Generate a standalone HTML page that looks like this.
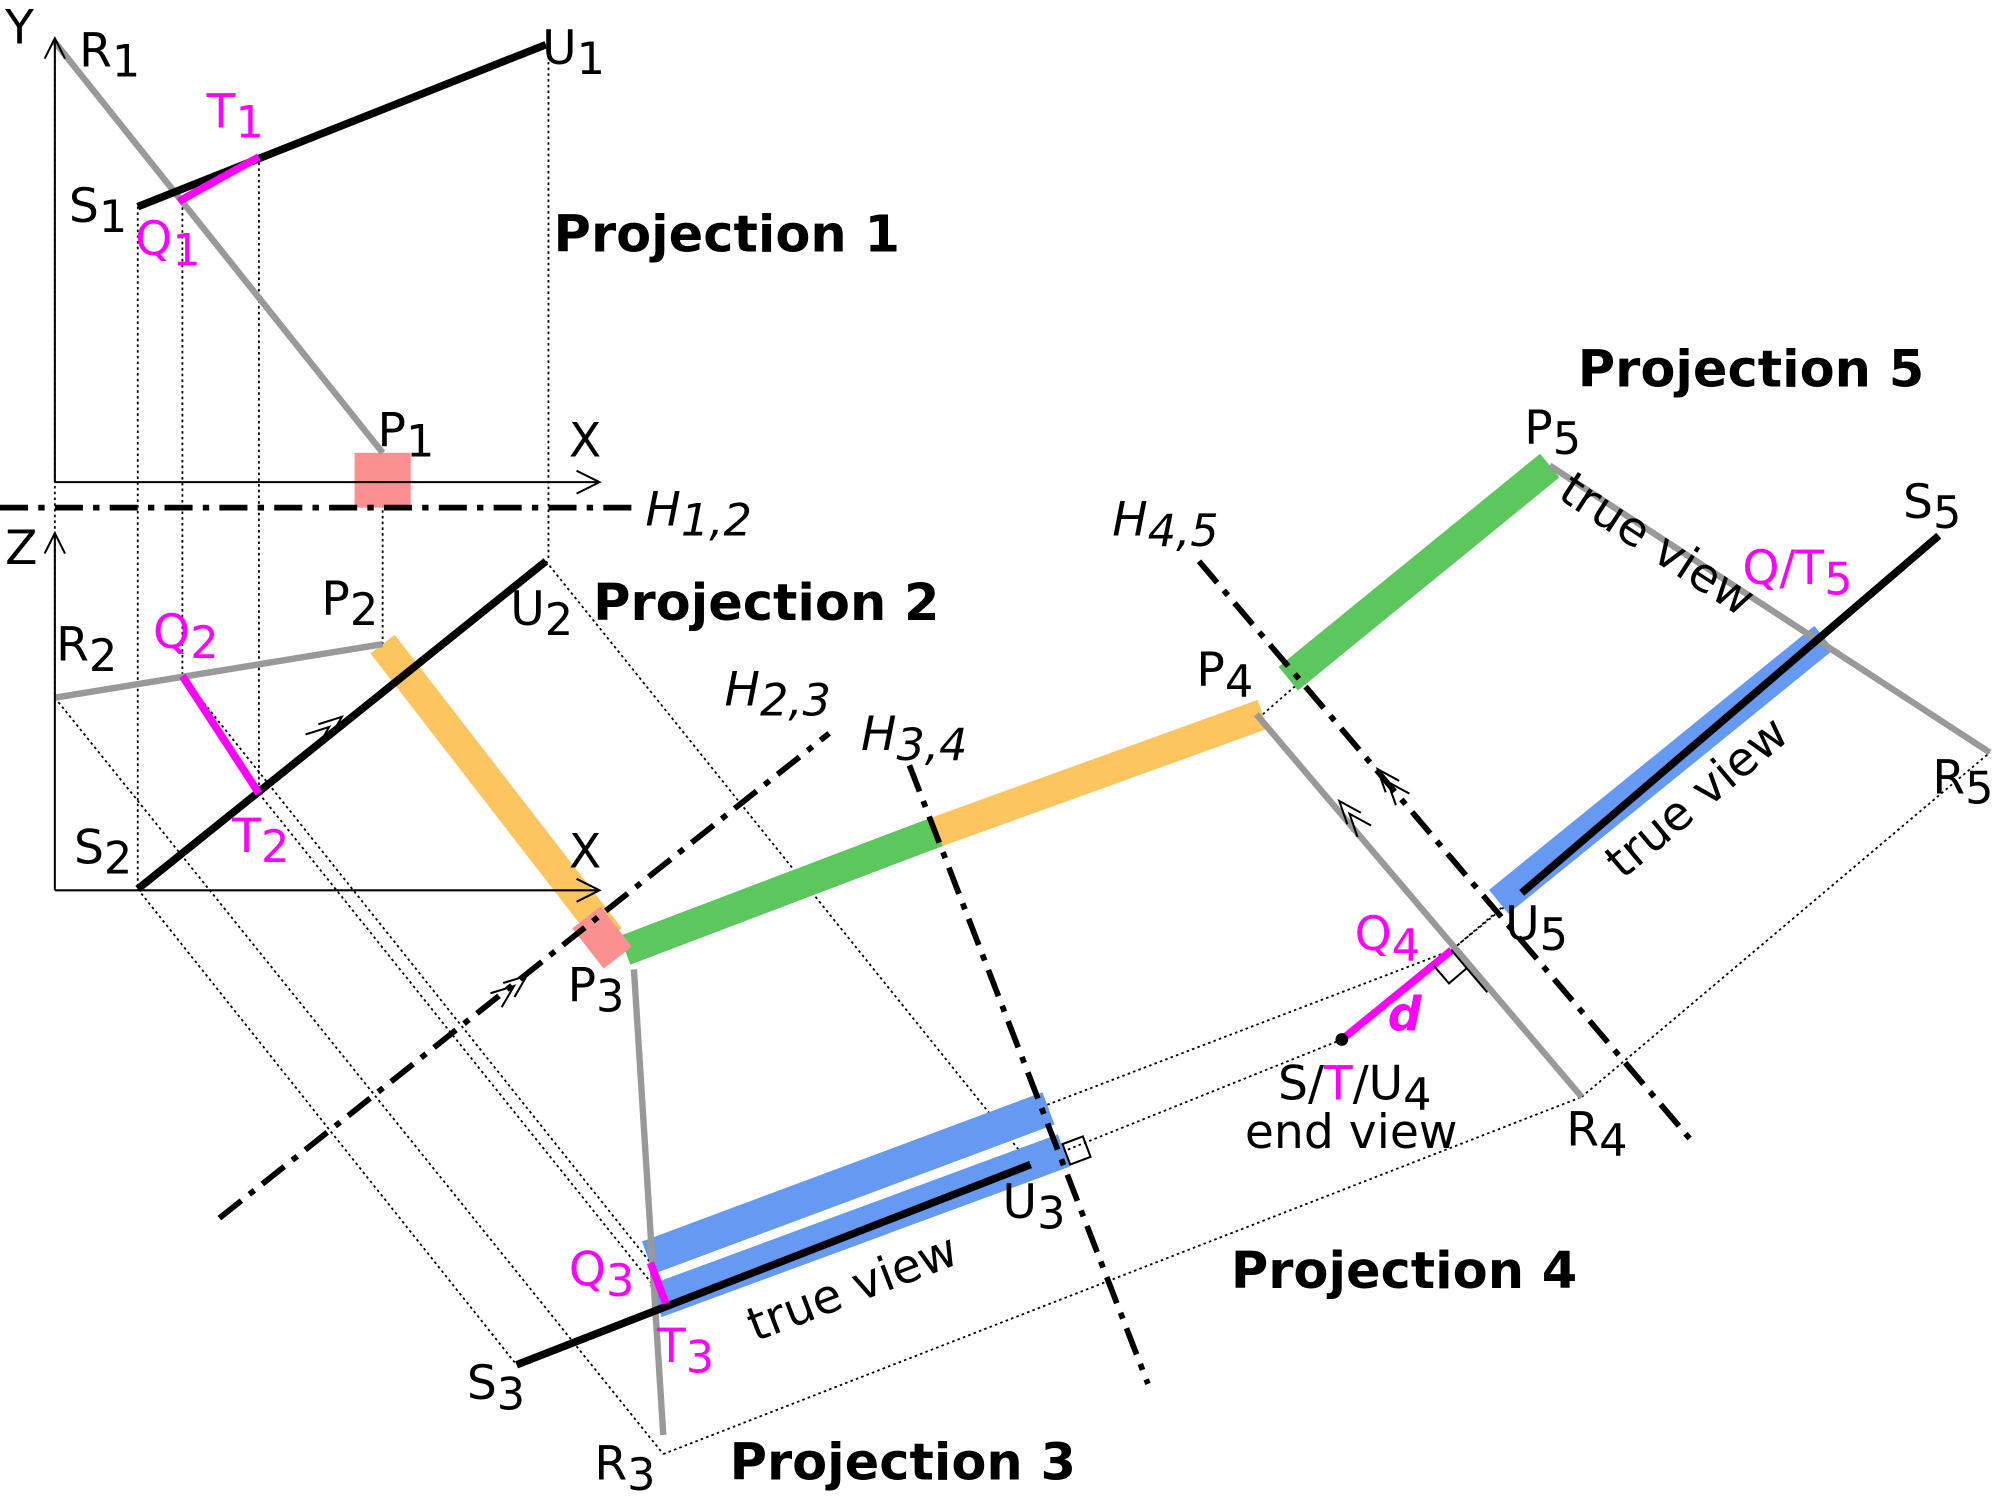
<!DOCTYPE html>
<html><head><meta charset="utf-8"><style>html,body{margin:0;padding:0;background:#fff}svg{display:block}</style></head><body>
<svg width="2000" height="1500" viewBox="0 0 1568 1176" preserveAspectRatio="none" xmlns="http://www.w3.org/2000/svg" font-family="DejaVu Sans, Liberation Sans, sans-serif">
<rect width="1568" height="1176" fill="#fff"/>
<g stroke="#000" stroke-width="1.4" stroke-dasharray="2,2.5" fill="none">
<line x1="43" y1="30" x2="43" y2="547"/>
<line x1="108" y1="162" x2="108" y2="697"/>
<line x1="143" y1="158" x2="143" y2="530"/>
<line x1="203" y1="123" x2="203" y2="622"/>
<line x1="300" y1="355" x2="300" y2="505"/>
<line x1="430" y1="35" x2="430" y2="440"/>
<line x1="108" y1="697" x2="405" y2="1070"/>
<line x1="43" y1="547" x2="520" y2="1140"/>
<line x1="428" y1="440" x2="808" y2="913"/>
<line x1="143" y1="530" x2="510" y2="990"/>
<line x1="203" y1="622" x2="522" y2="1020"/>
<line x1="520" y1="1140" x2="1240" y2="860"/>
<line x1="808" y1="913" x2="1052" y2="815"/>
<line x1="510" y1="985" x2="1138" y2="745"/>
<line x1="490" y1="745" x2="990" y2="560"/>
<line x1="1052" y1="815" x2="1193" y2="700"/>
<line x1="1138" y1="745" x2="1420" y2="505"/>
<line x1="1240" y1="860" x2="1560" y2="590"/>
<line x1="990" y1="560" x2="1215" y2="365"/>
</g>
<g stroke-linecap="butt" fill="none">
<line x1="300" y1="505" x2="478" y2="735" stroke="#fdc560" stroke-width="24"/>
<line x1="490" y1="745" x2="735" y2="652" stroke="#5cc75c" stroke-width="24"/>
<line x1="735" y1="652" x2="990" y2="560" stroke="#fdc560" stroke-width="24"/>
<line x1="1010" y1="532" x2="1215" y2="365" stroke="#5cc75c" stroke-width="24"/>
<line x1="508" y1="986" x2="822" y2="869" stroke="#6699f2" stroke-width="27"/>
<line x1="514" y1="1020" x2="834" y2="902" stroke="#6699f2" stroke-width="27"/>
<line x1="1175" y1="707" x2="1430" y2="500" stroke="#6699f2" stroke-width="24"/>
</g>
<rect x="278" y="355" width="44" height="43" fill="#fa9090"/>
<rect x="458" y="715" width="28" height="40" fill="#fa9090" transform="rotate(-38 472 735)"/>
<g stroke="#999" stroke-width="5" fill="none">
<line x1="43" y1="33" x2="300" y2="355"/>
<line x1="43" y1="547" x2="300" y2="505"/>
<line x1="497" y1="760" x2="520" y2="1125"/>
<line x1="985" y1="560" x2="1240" y2="860"/>
<line x1="1215" y1="365" x2="1560" y2="590"/>
</g>
<g stroke="#000" stroke-width="6" fill="none">
<line x1="108" y1="162" x2="428" y2="35"/>
<line x1="108" y1="697" x2="428" y2="440"/>
<line x1="405" y1="1070" x2="808" y2="913"/>
<line x1="1520" y1="420" x2="1193" y2="700"/>
</g>
<g stroke="#f0f" stroke-width="6" fill="none">
<line x1="140" y1="158" x2="203" y2="123"/>
<line x1="143" y1="530" x2="203" y2="622"/>
<line x1="510" y1="990" x2="522" y2="1022"/>
<line x1="1138" y1="745" x2="1052" y2="815"/>
</g>
<circle cx="1052" cy="815" r="5" fill="#000"/>
<g stroke="#000" stroke-width="1.6" fill="none">
<line x1="43" y1="378" x2="43" y2="30"/><polyline points="35,46 43,30 51,46"/>
<line x1="43" y1="378" x2="470" y2="378"/><polyline points="452,369 470,378 452,387"/>
<line x1="43" y1="698" x2="43" y2="418"/><polyline points="35,434 43,418 51,434"/>
<line x1="43" y1="698" x2="470" y2="698"/><polyline points="452,689 470,698 452,707"/>
<polyline points="258.4,578.8 268,562 249.6,567.8"/><polyline points="248.4,586.8 258,570 239.6,575.8"/>
<polyline points="403.3,781.7 413,765 394.5,770.7"/><polyline points="393.3,789.7 403,773 384.5,778.7"/>
<polyline points="1066.9,637.2 1050,628 1056.3,646.2"/><polyline points="1074.9,647.2 1058,638 1064.3,656.2"/>
<polyline points="1097,612.2 1080,603 1086.4,621.2"/><polyline points="1105,622.2 1088,613 1094.4,631.2"/>
<polygon points="833,897 849,891 855,907 839,913"/>
<polyline points="1124,757 1136,771 1150,759"/><line x1="1138" y1="745" x2="1166" y2="778"/>
</g>
<g stroke="#000" stroke-width="4.5" stroke-dasharray="22,8,5,8" fill="none">
<line x1="0" y1="398" x2="500" y2="398"/>
<line x1="172" y1="955" x2="650" y2="575"/>
<line x1="713" y1="600" x2="900" y2="1085"/>
<line x1="940" y1="440" x2="1325" y2="893"/>
</g>
<g font-size="37" fill="#000">
<text x="4" y="34">Y</text>
<text x="62" y="52">R<tspan font-size="35" dy="8">1</tspan></text>
<text x="425" y="50">U<tspan font-size="35" dy="8">1</tspan></text>
<text x="54" y="174">S<tspan font-size="35" dy="8">1</tspan></text>
<text x="296" y="350">P<tspan font-size="35" dy="8">1</tspan></text>
<text x="446" y="358">X</text>
<text x="506" y="412" font-style="italic">H<tspan font-size="35" dy="8">1,2</tspan></text>
<text x="4" y="442">Z</text>
<text x="44" y="518">R<tspan font-size="35" dy="8">2</tspan></text>
<text x="252" y="482">P<tspan font-size="35" dy="8">2</tspan></text>
<text x="400" y="490">U<tspan font-size="35" dy="8">2</tspan></text>
<text x="58" y="677">S<tspan font-size="35" dy="8">2</tspan></text>
<text x="446" y="680">X</text>
<text x="568" y="553" font-style="italic">H<tspan font-size="35" dy="8">2,3</tspan></text>
<text x="675" y="588" font-style="italic">H<tspan font-size="35" dy="8">3,4</tspan></text>
<text x="872" y="420" font-style="italic">H<tspan font-size="35" dy="8">4,5</tspan></text>
<text x="445" y="785">P<tspan font-size="35" dy="8">3</tspan></text>
<text x="786" y="955">U<tspan font-size="35" dy="8">3</tspan></text>
<text x="366" y="1097">S<tspan font-size="35" dy="8">3</tspan></text>
<text x="466" y="1160">R<tspan font-size="35" dy="8">3</tspan></text>
<text x="938" y="538">P<tspan font-size="35" dy="8">4</tspan></text>
<text x="1228" y="898">R<tspan font-size="35" dy="8">4</tspan></text>
<text x="1195" y="348">P<tspan font-size="35" dy="8">5</tspan></text>
<text x="1492" y="406">S<tspan font-size="35" dy="8">5</tspan></text>
<text x="1515" y="622">R<tspan font-size="35" dy="8">5</tspan></text>
<text x="1180" y="737">U<tspan font-size="35" dy="8">5</tspan></text>
<text x="1002" y="862">S/<tspan fill="#f0f">T</tspan>/U<tspan font-size="35" dy="8">4</tspan></text>
<text x="976" y="900">end view</text>
<text transform="translate(592 1052) rotate(-21)">true view</text>
<text transform="translate(1220 390) rotate(33)">true view</text>
<text transform="translate(1272 690) rotate(-40)">true view</text>
</g>
<g font-size="37" fill="#f0f">
<text x="162" y="100">T<tspan font-size="35" dy="8">1</tspan></text>
<text x="106" y="200">Q<tspan font-size="35" dy="8">1</tspan></text>
<text x="120" y="508">Q<tspan font-size="35" dy="8">2</tspan></text>
<text x="182" y="668">T<tspan font-size="35" dy="8">2</tspan></text>
<text x="446" y="1008">Q<tspan font-size="35" dy="8">3</tspan></text>
<text x="515" y="1068">T<tspan font-size="35" dy="8">3</tspan></text>
<text x="1062" y="745">Q<tspan font-size="35" dy="8">4</tspan></text>
<text x="1366" y="458">Q/T<tspan font-size="35" dy="8">5</tspan></text>
<text x="1088" y="808" font-weight="bold" font-style="italic">d</text>
</g>
<g font-size="40" font-weight="bold" fill="#000">
<text x="434" y="197">Projection 1</text>
<text x="465" y="486">Projection 2</text>
<text x="572" y="1160">Projection 3</text>
<text x="965" y="1010">Projection 4</text>
<text x="1237" y="303">Projection 5</text>
</g>
</svg>
</body></html>
